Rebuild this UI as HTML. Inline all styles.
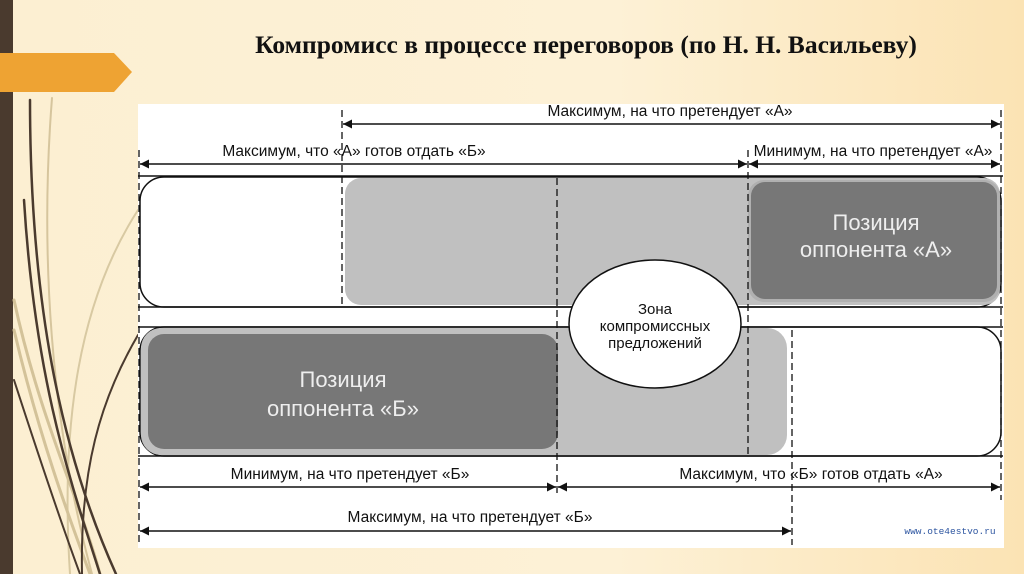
<!DOCTYPE html>
<html><head><meta charset="utf-8"><style>
html,body{margin:0;padding:0;width:1024px;height:574px;overflow:hidden}
body{background:linear-gradient(90deg,#fcefd2 0%,#fdf1d6 60%,#fbe3b4 100%)}
svg{display:block}
</style></head><body>
<svg width="1024" height="574" viewBox="0 0 1024 574" xmlns="http://www.w3.org/2000/svg" font-family="Liberation Sans, sans-serif">
<defs>
<marker id="ah" viewBox="0 0 10 10" refX="10" refY="5" markerWidth="13" markerHeight="9" orient="auto-start-reverse" markerUnits="userSpaceOnUse"><path d="M0,0L10,5L0,10z" fill="#111"/></marker>
</defs>
<rect x="0" y="0" width="13" height="574" fill="#4a3a2e"/>
<path d="M0,53 H114 L132,72 L114,92 H0z" fill="#eea333"/>
<g fill="none" stroke-linecap="round">
<path d="M52,98 C40,250 50,420 92,574" stroke="#d6c59d" stroke-width="2"/>
<path d="M138,210 C80,300 60,420 70,574" stroke="#d8c9a2" stroke-width="2"/>
<path d="M14,300 C40,420 80,500 100,574" stroke="#d3c299" stroke-width="3"/>
<path d="M14,330 C40,440 70,520 90,574" stroke="#d3c299" stroke-width="3"/>
<path d="M30,100 C30,300 60,450 116,574" stroke="#4a3a2e" stroke-width="2.5"/>
<path d="M24,200 C35,380 70,480 100,574" stroke="#4a3a2e" stroke-width="2.5"/>
<path d="M138,335 C100,400 80,470 82,574" stroke="#4a3a2e" stroke-width="2"/>
<path d="M14,380 C40,460 60,520 80,574" stroke="#4a3a2e" stroke-width="2"/>
</g>
<text x="586" y="53" text-anchor="middle" font-family="Liberation Serif, serif" font-weight="bold" font-size="25.5" fill="#111">Компромисс в процессе переговоров (по Н. Н. Васильеву)</text>

<rect x="138" y="104" width="866" height="444" fill="#fff"/>
<rect x="140" y="177" width="861" height="130" rx="24" fill="#fff" stroke="#111" stroke-width="1.5"/>
<rect x="345" y="178" width="655" height="127" rx="16" fill="#c0c0c0"/>
<rect x="748" y="180" width="252" height="122" rx="16" fill="#b0b0b0"/>
<rect x="751" y="182" width="246" height="117" rx="14" fill="#777"/>
<rect x="140" y="327" width="861" height="129" rx="24" fill="#fff" stroke="#111" stroke-width="1.5"/>
<rect x="141" y="328" width="646" height="127" rx="20" fill="#c0c0c0"/>
<rect x="148" y="334" width="410" height="115" rx="16" fill="#777"/>
<g stroke="#111" stroke-width="1.5">
<line x1="138" y1="176" x2="1003" y2="176"/>
<line x1="138" y1="307" x2="1003" y2="307"/>
<line x1="138" y1="327" x2="1003" y2="327"/>
<line x1="138" y1="456" x2="1003" y2="456"/>
</g>
<g stroke="#111" stroke-width="1.3" stroke-dasharray="7,4">
<line x1="139" y1="150" x2="139" y2="545"/>
<line x1="342" y1="110" x2="342" y2="305"/>
<line x1="557" y1="178" x2="557" y2="495"/>
<line x1="748" y1="150" x2="748" y2="456"/>
<line x1="792" y1="330" x2="792" y2="545"/>
<line x1="1001" y1="110" x2="1001" y2="500"/>
</g>
<ellipse cx="655" cy="324" rx="86" ry="64" fill="#fff" stroke="#111" stroke-width="1.5"/>
<g font-size="15" text-anchor="middle" fill="#111">
<text x="655" y="314">Зона</text>
<text x="655" y="331">компромиссных</text>
<text x="655" y="348">предложений</text>
</g>
<g font-size="22" text-anchor="middle" fill="#eee">
<text x="876" y="230">Позиция</text>
<text x="876" y="257">оппонента «А»</text>
<text x="343" y="387">Позиция</text>
<text x="343" y="416">оппонента «Б»</text>
</g>
<g stroke="#111" stroke-width="1.5" marker-start="url(#ah)" marker-end="url(#ah)">
<line x1="343" y1="124" x2="1000" y2="124"/>
<line x1="140" y1="164" x2="747" y2="164"/>
<line x1="749" y1="164" x2="1000" y2="164"/>
<line x1="140" y1="487" x2="556" y2="487"/>
<line x1="558" y1="487" x2="1000" y2="487"/>
<line x1="140" y1="531" x2="791" y2="531"/>
</g>
<g font-size="15.5" text-anchor="middle" fill="#111">
<text x="670" y="116">Максимум, на что претендует «А»</text>
<text x="354" y="156">Максимум, что «А» готов отдать «Б»</text>
<text x="873" y="156">Минимум, на что претендует «А»</text>
<text x="350" y="479">Минимум, на что претендует «Б»</text>
<text x="811" y="479">Максимум, что «Б» готов отдать «А»</text>
<text x="470" y="522">Максимум, на что претендует «Б»</text>
</g>
<text x="950" y="534" text-anchor="middle" font-family="Liberation Mono, monospace" font-size="9.5" fill="#2d55a0">www.ote4estvo.ru</text>
</svg>
</body></html>
